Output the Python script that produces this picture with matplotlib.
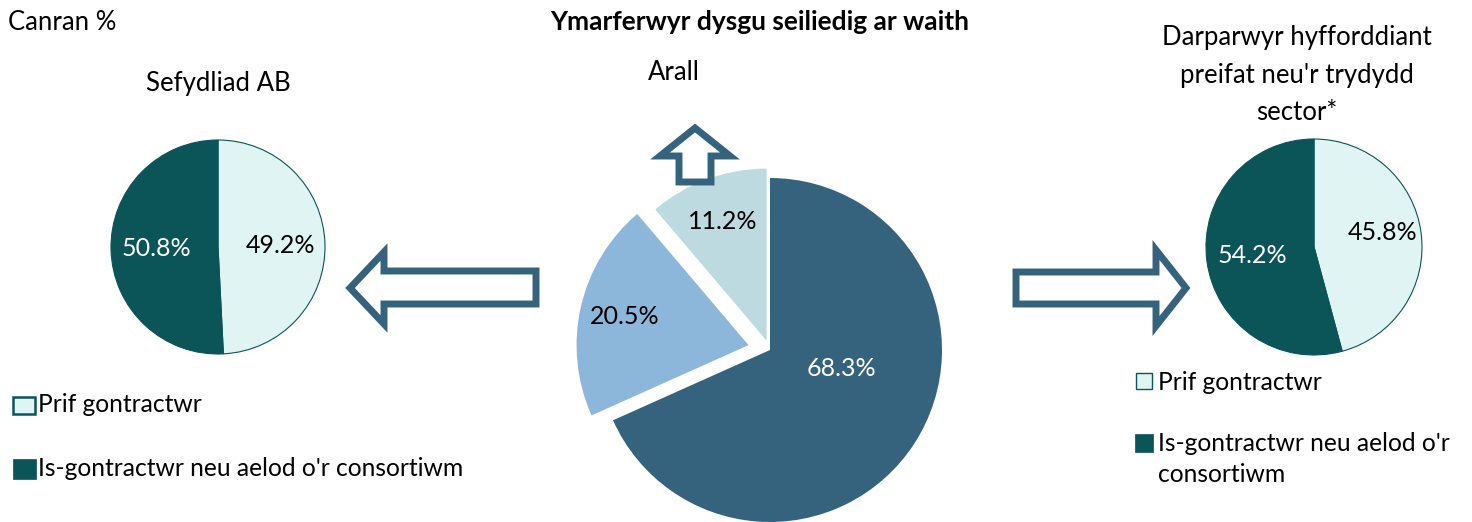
import matplotlib.pyplot as plt
from matplotlib.patches import Polygon, Rectangle

plt.rcParams['font.family'] = ['Lato', 'DejaVu Sans']

W, H = 1472, 522

# data
labels_split = ['Prif gontractwr', "Is-gontractwr neu aelod o'r consortiwm"]
ab_values = [49.2, 50.8]
private_values = [45.8, 54.2]
wbl_labels = ['Sefydliad AB', 'Darparwyr preifat / trydydd sector', 'Arall']
wbl_values = [68.3, 20.5, 11.2]

dark_teal = '#0B5457'
light_teal = '#E0F4F3'
arrow_col = '#35637D'
wbl_colors = ['#35637D', '#8DB6DB', '#BCDADF']

FS = 18.5
LFS = 17.7
PFS = 18

fig = plt.figure(figsize=(W / 100, H / 100), dpi=100)
ax = fig.add_axes([0, 0, 1, 1])


def py(y):
    # pixel row (from top) -> data y
    return H - y


def small_pie(values, cx, cy, r):
    wedges, texts, autotexts = ax.pie(
        values, colors=[light_teal, dark_teal], startangle=90, counterclock=False,
        center=(cx, py(cy)), radius=r, autopct='%.1f%%', pctdistance=0.58,
        wedgeprops=dict(edgecolor=dark_teal, linewidth=0.8),
        textprops=dict(fontsize=PFS))
    autotexts[0].set_color('black')
    autotexts[1].set_color('white')
    return autotexts


small_pie(ab_values, 218, 247, 107)
at = small_pie(private_values, 1314, 247, 108)
at[0].set_position((1314 + 69, py(233)))

wedges, texts, autotexts = ax.pie(
    wbl_values, colors=wbl_colors, startangle=90, counterclock=False,
    center=(770, py(350)), radius=172, explode=[0, 22, 10],
    autopct='%.1f%%', pctdistance=0.74, textprops=dict(fontsize=PFS))
autotexts[0].set_color('white')
autotexts[0].set_position((841, py(369)))
for t in autotexts[1:]:
    t.set_color('black')

# block arrows (outline)
arrow_kw = dict(closed=True, facecolor='white', edgecolor=arrow_col, linewidth=5,
                joinstyle='miter', zorder=5)
left_arrow = [(536, 271), (384, 271), (384, 252), (350, 288), (384, 324), (384, 304), (536, 304)]
right_arrow = [(1016, 272), (1156, 272), (1156, 250), (1186, 288), (1156, 326), (1156, 304), (1016, 304)]
up_arrow = [(679, 182), (679, 156), (660, 156), (695, 128), (730, 156), (711, 156), (711, 182)]
for pts in (left_arrow, right_arrow, up_arrow):
    ax.add_patch(Polygon([(x, py(y)) for x, y in pts], **arrow_kw))

# texts
ax.text(8, py(22), 'Canran %', fontsize=FS, va='center', ha='left')
ax.text(760, py(22), 'Ymarferwyr dysgu seiliedig ar waith', fontsize=19,
        fontweight='bold', ha='center', va='center')
ax.text(674, py(72), 'Arall', fontsize=FS, ha='center', va='center')
ax.text(218, py(83), 'Sefydliad AB', fontsize=FS, ha='center', va='center')
ax.text(1297, py(75), "Darparwyr hyfforddiant\npreifat neu'r trydydd\nsector*",
        fontsize=FS, ha='center', va='center', linespacing=1.65)

# legends
ax.add_patch(Rectangle((13, py(414)), 22, 17, facecolor=light_teal, edgecolor=dark_teal, linewidth=1.8))
ax.text(38, py(405), labels_split[0], fontsize=LFS, va='center')
ax.add_patch(Rectangle((13, py(479)), 23, 20, facecolor=dark_teal, edgecolor=dark_teal, linewidth=0.5))
ax.text(38, py(469), labels_split[1], fontsize=LFS, va='center')

ax.add_patch(Rectangle((1136, py(389)), 16, 16, facecolor=light_teal, edgecolor=dark_teal, linewidth=1))
ax.text(1158, py(382), labels_split[0], fontsize=LFS, va='center')
ax.add_patch(Rectangle((1135, py(452)), 18, 18, facecolor=dark_teal, edgecolor=dark_teal, linewidth=0.5))
ax.text(1158, py(459), "Is-gontractwr neu aelod o'r\nconsortiwm", fontsize=LFS, va='center',
        linespacing=1.4)

ax.set_xlim(0, W)
ax.set_ylim(0, H)
ax.set_aspect('auto')
ax.axis('off')

plt.savefig('out.png', dpi=100)
